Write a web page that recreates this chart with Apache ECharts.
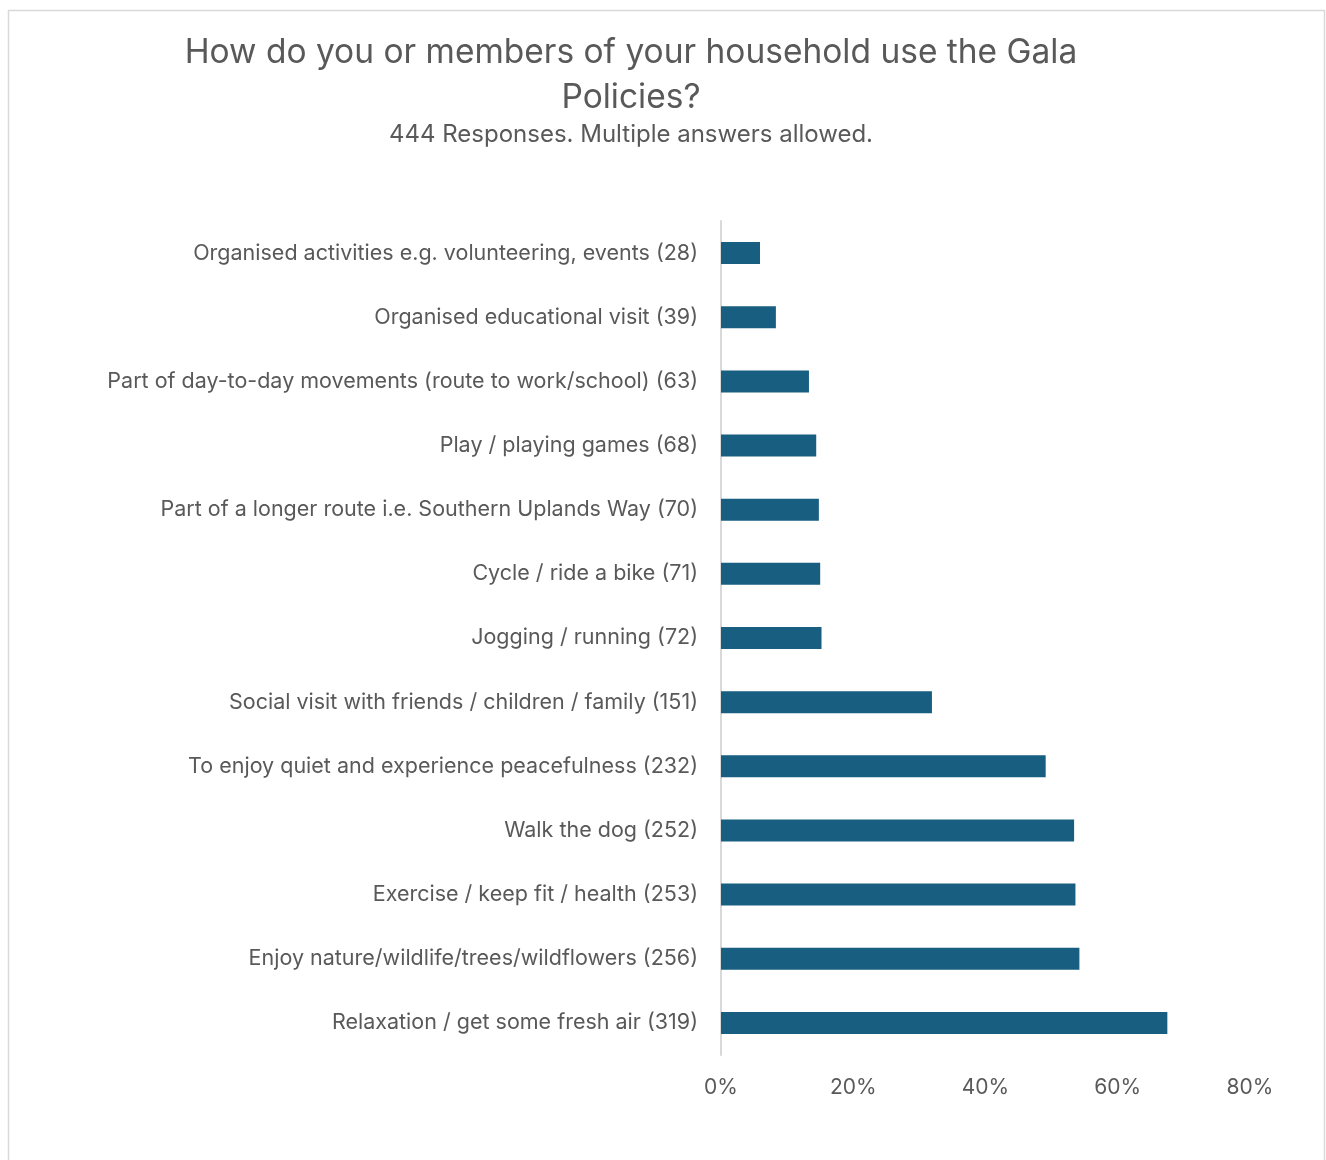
<!DOCTYPE html>
<html><head><meta charset="utf-8">
<script src="https://cdn.jsdelivr.net/npm/echarts@6/dist/echarts.min.js"></script>
<style>html,body{margin:0;padding:0;background:#fff}#c{width:1326px;height:1160px}</style>
</head><body><div id="c"></div>
<script>
const categories = [
  "Organised activities e.g. volunteering, events (28)",
  "Organised educational visit (39)",
  "Part of day-to-day movements (route to work/school) (63)",
  "Play / playing games (68)",
  "Part of a longer route i.e. Southern Uplands Way (70)",
  "Cycle / ride a bike (71)",
  "Jogging / running (72)",
  "Social visit with friends / children / family (151)",
  "To enjoy quiet and experience peacefulness (232)",
  "Walk the dog (252)",
  "Exercise / keep fit / health (253)",
  "Enjoy nature/wildlife/trees/wildflowers (256)",
  "Relaxation / get some fresh air (319)"
];
const shares = [5.9, 8.3, 13.3, 14.4, 14.8, 15.0, 15.2, 31.9, 49.1, 53.4, 53.6, 54.2, 67.5];
const xTicks = [0, 20, 40, 60, 80];

const chart = echarts.init(document.getElementById('c'), null, {renderer: 'canvas'});
const txt = '#595959';
chart.setOption({
  backgroundColor: '#fff',
  animation: false,
  graphic: [{type: 'rect', shape: {x: 8.5, y: 10.5, width: 1316, height: 1160}, style: {fill: 'none', stroke: '#d9d9d9', lineWidth: 1.5}}],
  title: {
    text: 'How do you or members of your household use the Gala\nPolicies?',
    subtext: '444 Responses. Multiple answers allowed.',
    left: 626, textAlign: 'center', top: 25,
    textStyle: {fontFamily: 'Inter', fontSize: 33.5, fontWeight: 'normal', color: txt, lineHeight: 45},
    subtextStyle: {fontFamily: 'Inter', fontSize: 24, color: txt},
    itemGap: 3
  },
  grid: {left: 721, right: 76, top: 221, bottom: 105, containLabel: false},
  xAxis: {
    type: 'value', min: 0, max: 80, interval: 20,
    axisLine: {show: false}, axisTick: {show: false}, splitLine: {show: false},
    axisLabel: {formatter: v => xTicks.includes(v) ? v + '%' : '', color: txt, fontFamily: 'Inter', fontSize: 21, margin: 22}
  },
  yAxis: {
    type: 'category', data: categories, inverse: true,
    axisLine: {show: true, lineStyle: {color: '#d9d9d9', width: 2}},
    axisTick: {show: false},
    axisLabel: {color: txt, fontFamily: 'Inter', fontSize: 21.5, margin: 23}
  },
  series: [{
    type: 'bar', data: shares, barWidth: 22,
    itemStyle: {color: '#175E80'}
  }]
});
</script></body></html>
